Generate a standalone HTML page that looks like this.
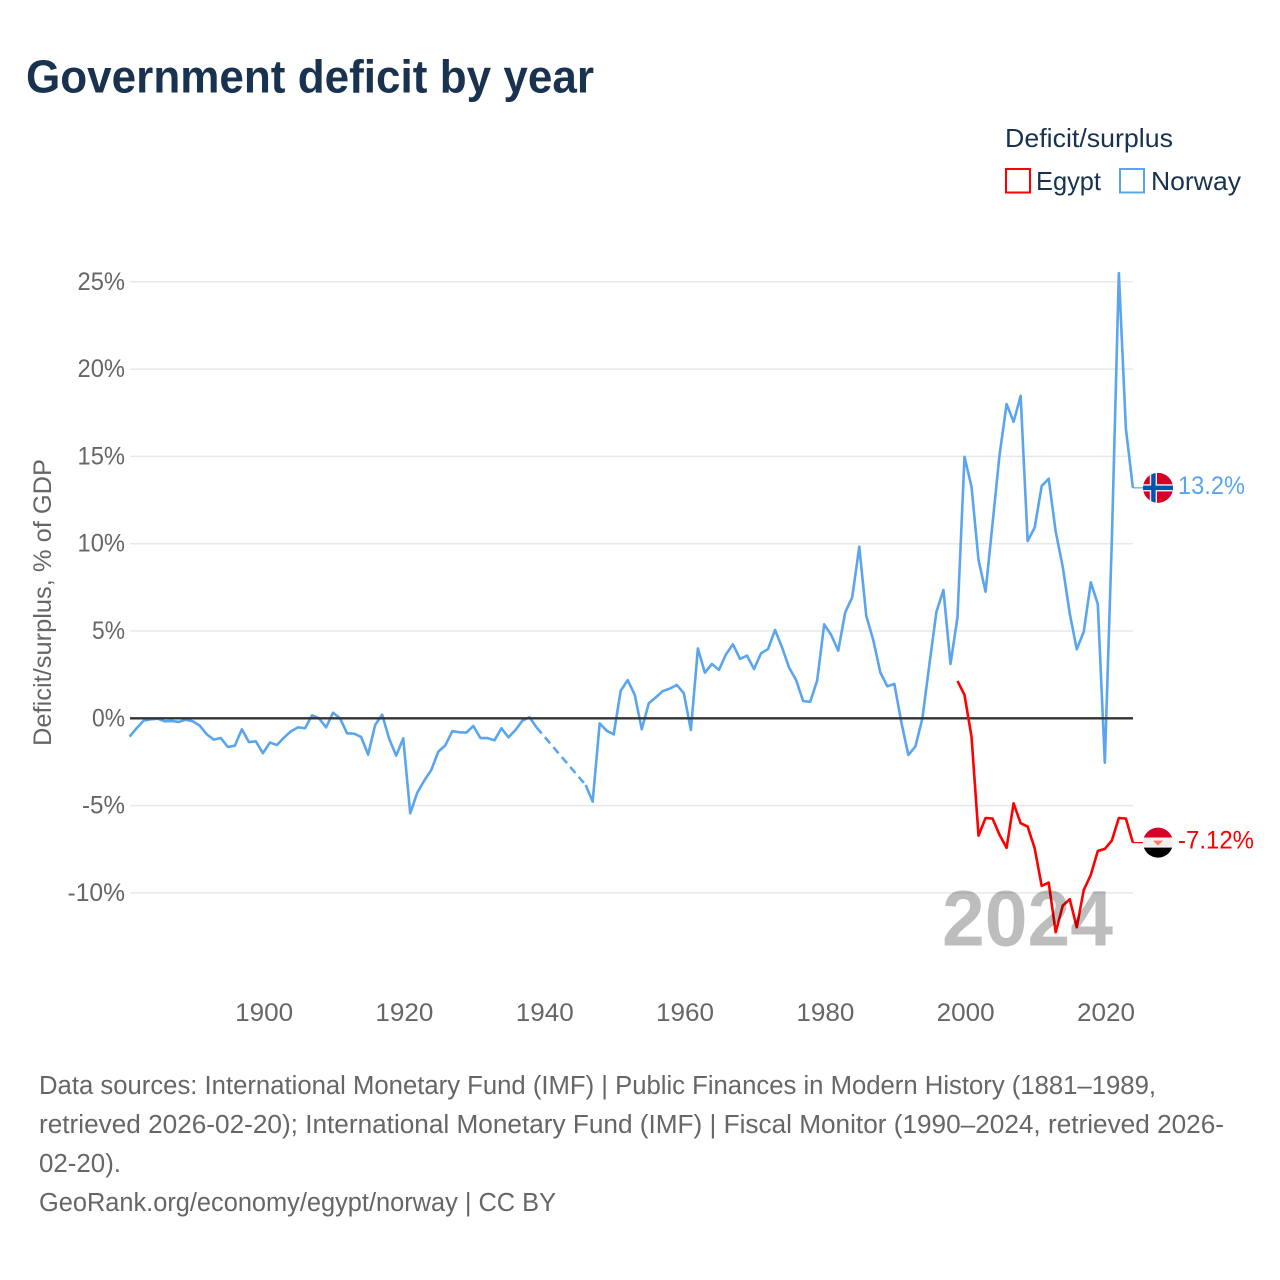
<!DOCTYPE html>
<html lang="en">
<head>
<meta charset="utf-8">
<title>Government deficit by year</title>
<style>
html,body{margin:0;padding:0;background:#fff;}
svg{display:block;font-family:"Liberation Sans",sans-serif;}
</style>
</head>
<body>
<svg id="chart" xmlns="http://www.w3.org/2000/svg" width="1280" height="1280" viewBox="0 0 1280 1280">
  <defs>
    <clipPath id="flag-clip"><circle cx="0" cy="0" r="15"/></clipPath>
  </defs>
  <rect x="0" y="0" width="1280" height="1280" fill="#fff"/>
  <text x="26" y="92.5" font-size="46" font-weight="700" fill="#18324f" textLength="568" lengthAdjust="spacingAndGlyphs">Government deficit by year</text>

  <g>
    <text x="1005" y="147" font-size="26" fill="#18324f" textLength="168" lengthAdjust="spacingAndGlyphs">Deficit/surplus</text>
    <rect x="1006" y="169" width="24" height="23.5" fill="none" stroke="#ff0000" stroke-width="2"/>
    <text x="1036" y="190" font-size="26" fill="#18324f" textLength="65" lengthAdjust="spacingAndGlyphs">Egypt</text>
    <rect x="1120" y="169" width="24" height="23.5" fill="none" stroke="#5aa5ee" stroke-width="2"/>
    <text x="1151" y="190" font-size="26" fill="#18324f" textLength="90" lengthAdjust="spacingAndGlyphs">Norway</text>
  </g>

  <text transform="translate(51,602.5) rotate(-90)" text-anchor="middle" font-size="25" fill="#666" textLength="287" lengthAdjust="spacingAndGlyphs">Deficit/surplus, % of GDP</text>

  <g id="grid"></g>
  <g id="y-ticks"></g>
  <g id="x-ticks"></g>
  <g id="series"></g>

  <g id="flag-norway">
    <g clip-path="url(#flag-clip)">
      <rect x="-16" y="-16" width="32" height="32" fill="#d80027"/>
      <rect x="-8.2" y="-16" width="7.2" height="32" fill="#f0f0f0"/>
      <rect x="-16" y="-3.6" width="32" height="7.2" fill="#f0f0f0"/>
      <rect x="-6.8" y="-16" width="4.4" height="32" fill="#0052b4"/>
      <rect x="-16" y="-2.2" width="32" height="4.4" fill="#0052b4"/>
    </g>
  </g>
  <g id="flag-egypt">
    <g clip-path="url(#flag-clip)">
      <rect x="-16" y="-16" width="32" height="11" fill="#d80027"/>
      <rect x="-16" y="-5" width="32" height="10" fill="#f0f0f0"/>
      <rect x="-16" y="5" width="32" height="11" fill="#000"/>
      <path d="M-5 -2 L5 -2 L2 1 L0 3 L-2 1 Z" fill="#ff7a59"/>
    </g>
  </g>
  <text id="label-norway" x="1178" font-size="25" fill="#5aa5ee" textLength="67" lengthAdjust="spacingAndGlyphs"></text>
  <text id="label-egypt" x="1178" font-size="25" fill="#ff0000" textLength="76" lengthAdjust="spacingAndGlyphs"></text>

  <text x="942" y="945.5" font-size="79" font-weight="700" fill="#000" fill-opacity="0.26" textLength="171" lengthAdjust="spacingAndGlyphs">2024</text>

  <g font-size="25.5" fill="#666">
    <text x="39" y="1094" textLength="1117" lengthAdjust="spacingAndGlyphs">Data sources: International Monetary Fund (IMF) | Public Finances in Modern History (1881–1989,</text>
    <text x="39" y="1133" textLength="1185" lengthAdjust="spacingAndGlyphs">retrieved 2026-02-20); International Monetary Fund (IMF) | Fiscal Monitor (1990–2024, retrieved 2026-</text>
    <text x="39" y="1172" textLength="82" lengthAdjust="spacingAndGlyphs">02-20).</text>
    <text x="39" y="1211" textLength="517" lengthAdjust="spacingAndGlyphs">GeoRank.org/economy/egypt/norway | CC BY</text>
  </g>
</svg>
<script>
const yTickValues = [25, 20, 15, 10, 5, -5, -10];
const yTickLabels = ["25%", "20%", "15%", "10%", "5%", "-5%", "-10%"];
const zeroTickLabel = "0%";
const xTickLabels = ["1900", "1920", "1940", "1960", "1980", "2000", "2020"];
const norwayStartYear = 1881;
const norwayValues = [
  -1.05,-0.57,-0.13,-0.06,-0.02,-0.17,-0.15,-0.21,-0.08,-0.17,
  -0.42,-0.92,-1.22,-1.13,-1.64,-1.57,-0.63,-1.36,-1.32,-2.0,
  -1.39,-1.53,-1.11,-0.74,-0.52,-0.57,0.17,0,-0.52,0.32,
  0,-0.86,-0.88,-1.07,-2.08,-0.38,0.21,-1.18,-2.14,-1.15,
  -5.44,-4.26,-3.57,-2.96,-1.91,-1.55,-0.74,-0.8,-0.82,-0.44,
  -1.13,-1.13,-1.26,-0.57,-1.09,-0.67,-0.13,0.06,-0.52,
  null,null,null,null,null,null,
  -3.82,-4.77,-0.29,-0.71,-0.92,1.58,2.19,1.34,-0.63,0.86,
  1.2,1.56,1.7,1.91,1.43,-0.67,4.0,2.61,3.11,2.77,
  3.66,4.24,3.4,3.59,2.82,3.72,3.97,5.06,4.06,2.9,
  2.19,0.99,0.94,2.16,5.38,4.77,3.87,6.07,6.93,9.83,
  5.86,4.48,2.63,1.83,1.97,-0.23,-2.1,-1.62,0,3.1,
  6.1,7.35,3.11,5.78,14.98,13.26,9.06,7.25,11.16,15.1,
  18.0,16.98,18.47,10.15,10.92,13.3,13.72,10.69,8.68,6.01,
  3.95,4.96,7.79,6.55,-2.54,10.2,25.5,16.6,13.2
];
const egyptStartYear = 1999;
const egyptValues = [
  2.14,1.34,-1.05,-6.72,-5.71,-5.74,-6.68,-7.42,-4.87,-6.01,
  -6.2,-7.44,-9.6,-9.41,-12.25,-10.73,-10.36,-11.97,-9.83,-8.97,
  -7.6,-7.48,-7.0,-5.71,-5.74,-7.12
];
const norwayEndLabel = "13.2%";
const egyptEndLabel = "-7.12%";

const NS = "http://www.w3.org/2000/svg";
const plotLeft = 130, plotRight = 1133, flagX = 1158;
function xScale(year) { return 262.9 + (year - 1900) * 7.016; }
function yScale(value) { return 718.3 - value * 17.46; }
function tickWidth(label) {
  let w = 0;
  for (const c of label) { w += c === "%" ? 18.5 : c === "-" ? 10 : 14.5; }
  return w;
}
function pathFrom(points) {
  return points.map((p, i) => (i ? "L" : "M") + p[0].toFixed(2) + " " + p[1].toFixed(2)).join(" ");
}
function addPath(parent, d, color, width) {
  const el = document.createElementNS(NS, "path");
  el.setAttribute("d", d);
  el.setAttribute("fill", "none");
  el.setAttribute("stroke", color);
  el.setAttribute("stroke-width", width);
  el.setAttribute("stroke-linejoin", "round");
  parent.appendChild(el);
  return el;
}
function addGridline(value, isZero) {
  const line = document.createElementNS(NS, "line");
  
  
  line.setAttribute("x1", plotLeft);
  line.setAttribute("x2", plotRight);
  line.setAttribute("y1", yScale(value));
  line.setAttribute("y2", yScale(value));
  line.setAttribute("stroke", isZero ? "#333" : "#e8e8e8");
  line.setAttribute("stroke-width", isZero ? 2.4 : 1.5);
  return line;
}
function addYLabel(label, value) {
  const t = document.createElementNS(NS, "text");
  
  
  t.setAttribute("x", 125);
  t.setAttribute("y", yScale(value) + 8);
  t.setAttribute("text-anchor", "end");
  t.setAttribute("font-size", "25");
  t.setAttribute("fill", "#666");
  t.setAttribute("textLength", tickWidth(label));
  t.setAttribute("lengthAdjust", "spacingAndGlyphs");
  t.textContent = label;
  document.getElementById("y-ticks").appendChild(t);
}

const grid = document.getElementById("grid");
yTickValues.forEach((v, i) => {
  grid.appendChild(addGridline(v, false));
  addYLabel(yTickLabels[i], v);
});
addYLabel(zeroTickLabel, 0);

xTickLabels.forEach(label => {
  const t = document.createElementNS(NS, "text");
  
  
  t.setAttribute("x", xScale(Number(label)) + 1.2);
  t.setAttribute("y", 1021);
  t.setAttribute("text-anchor", "middle");
  t.setAttribute("font-size", "25");
  t.setAttribute("fill", "#666");
  t.setAttribute("textLength", "58");
  t.setAttribute("lengthAdjust", "spacingAndGlyphs");
  t.textContent = label;
  document.getElementById("x-ticks").appendChild(t);
});

const seriesGroup = document.getElementById("series");

function drawSeries(values, startYear, color, key) {
  let run = [], last = null;
  const finishRun = () => {
    if (run.length > 1) {
      const solid = addPath(seriesGroup, pathFrom(run), color, 2.6);
      
      
    }
    run = [];
  };
  values.forEach((v, i) => {
    const year = startYear + i;
    if (v === null) {
      if (run.length) { last = run[run.length - 1]; finishRun(); }
      return;
    }
    const p = [xScale(year), yScale(v)];
    if (last) {
      const dashed = addPath(seriesGroup, pathFrom([last, p]), color, 2.6);
      
      
      dashed.setAttribute("stroke-dasharray", "8 5");
      last = null;
    }
    run.push(p);
  });
  const endPoint = run[run.length - 1];
  finishRun();
  const leader = addPath(seriesGroup, pathFrom([endPoint, [flagX - 15, endPoint[1]]]), color, 1.2);
  
  
  return endPoint;
}

const norwayEnd = drawSeries(norwayValues, norwayStartYear, "#5aa5ee", "norway");
seriesGroup.appendChild(addGridline(0, true));
const egyptEnd = drawSeries(egyptValues, egyptStartYear, "#ff0000", "egypt");

document.getElementById("flag-norway").setAttribute("transform", "translate(" + flagX + "," + norwayEnd[1] + ")");
document.getElementById("flag-egypt").setAttribute("transform", "translate(" + flagX + "," + egyptEnd[1] + ")");
const ln = document.getElementById("label-norway");
ln.setAttribute("y", norwayEnd[1] + 6);
ln.textContent = norwayEndLabel;
const le = document.getElementById("label-egypt");
le.setAttribute("y", egyptEnd[1] + 6);
le.textContent = egyptEndLabel;
</script>
</body>
</html>
